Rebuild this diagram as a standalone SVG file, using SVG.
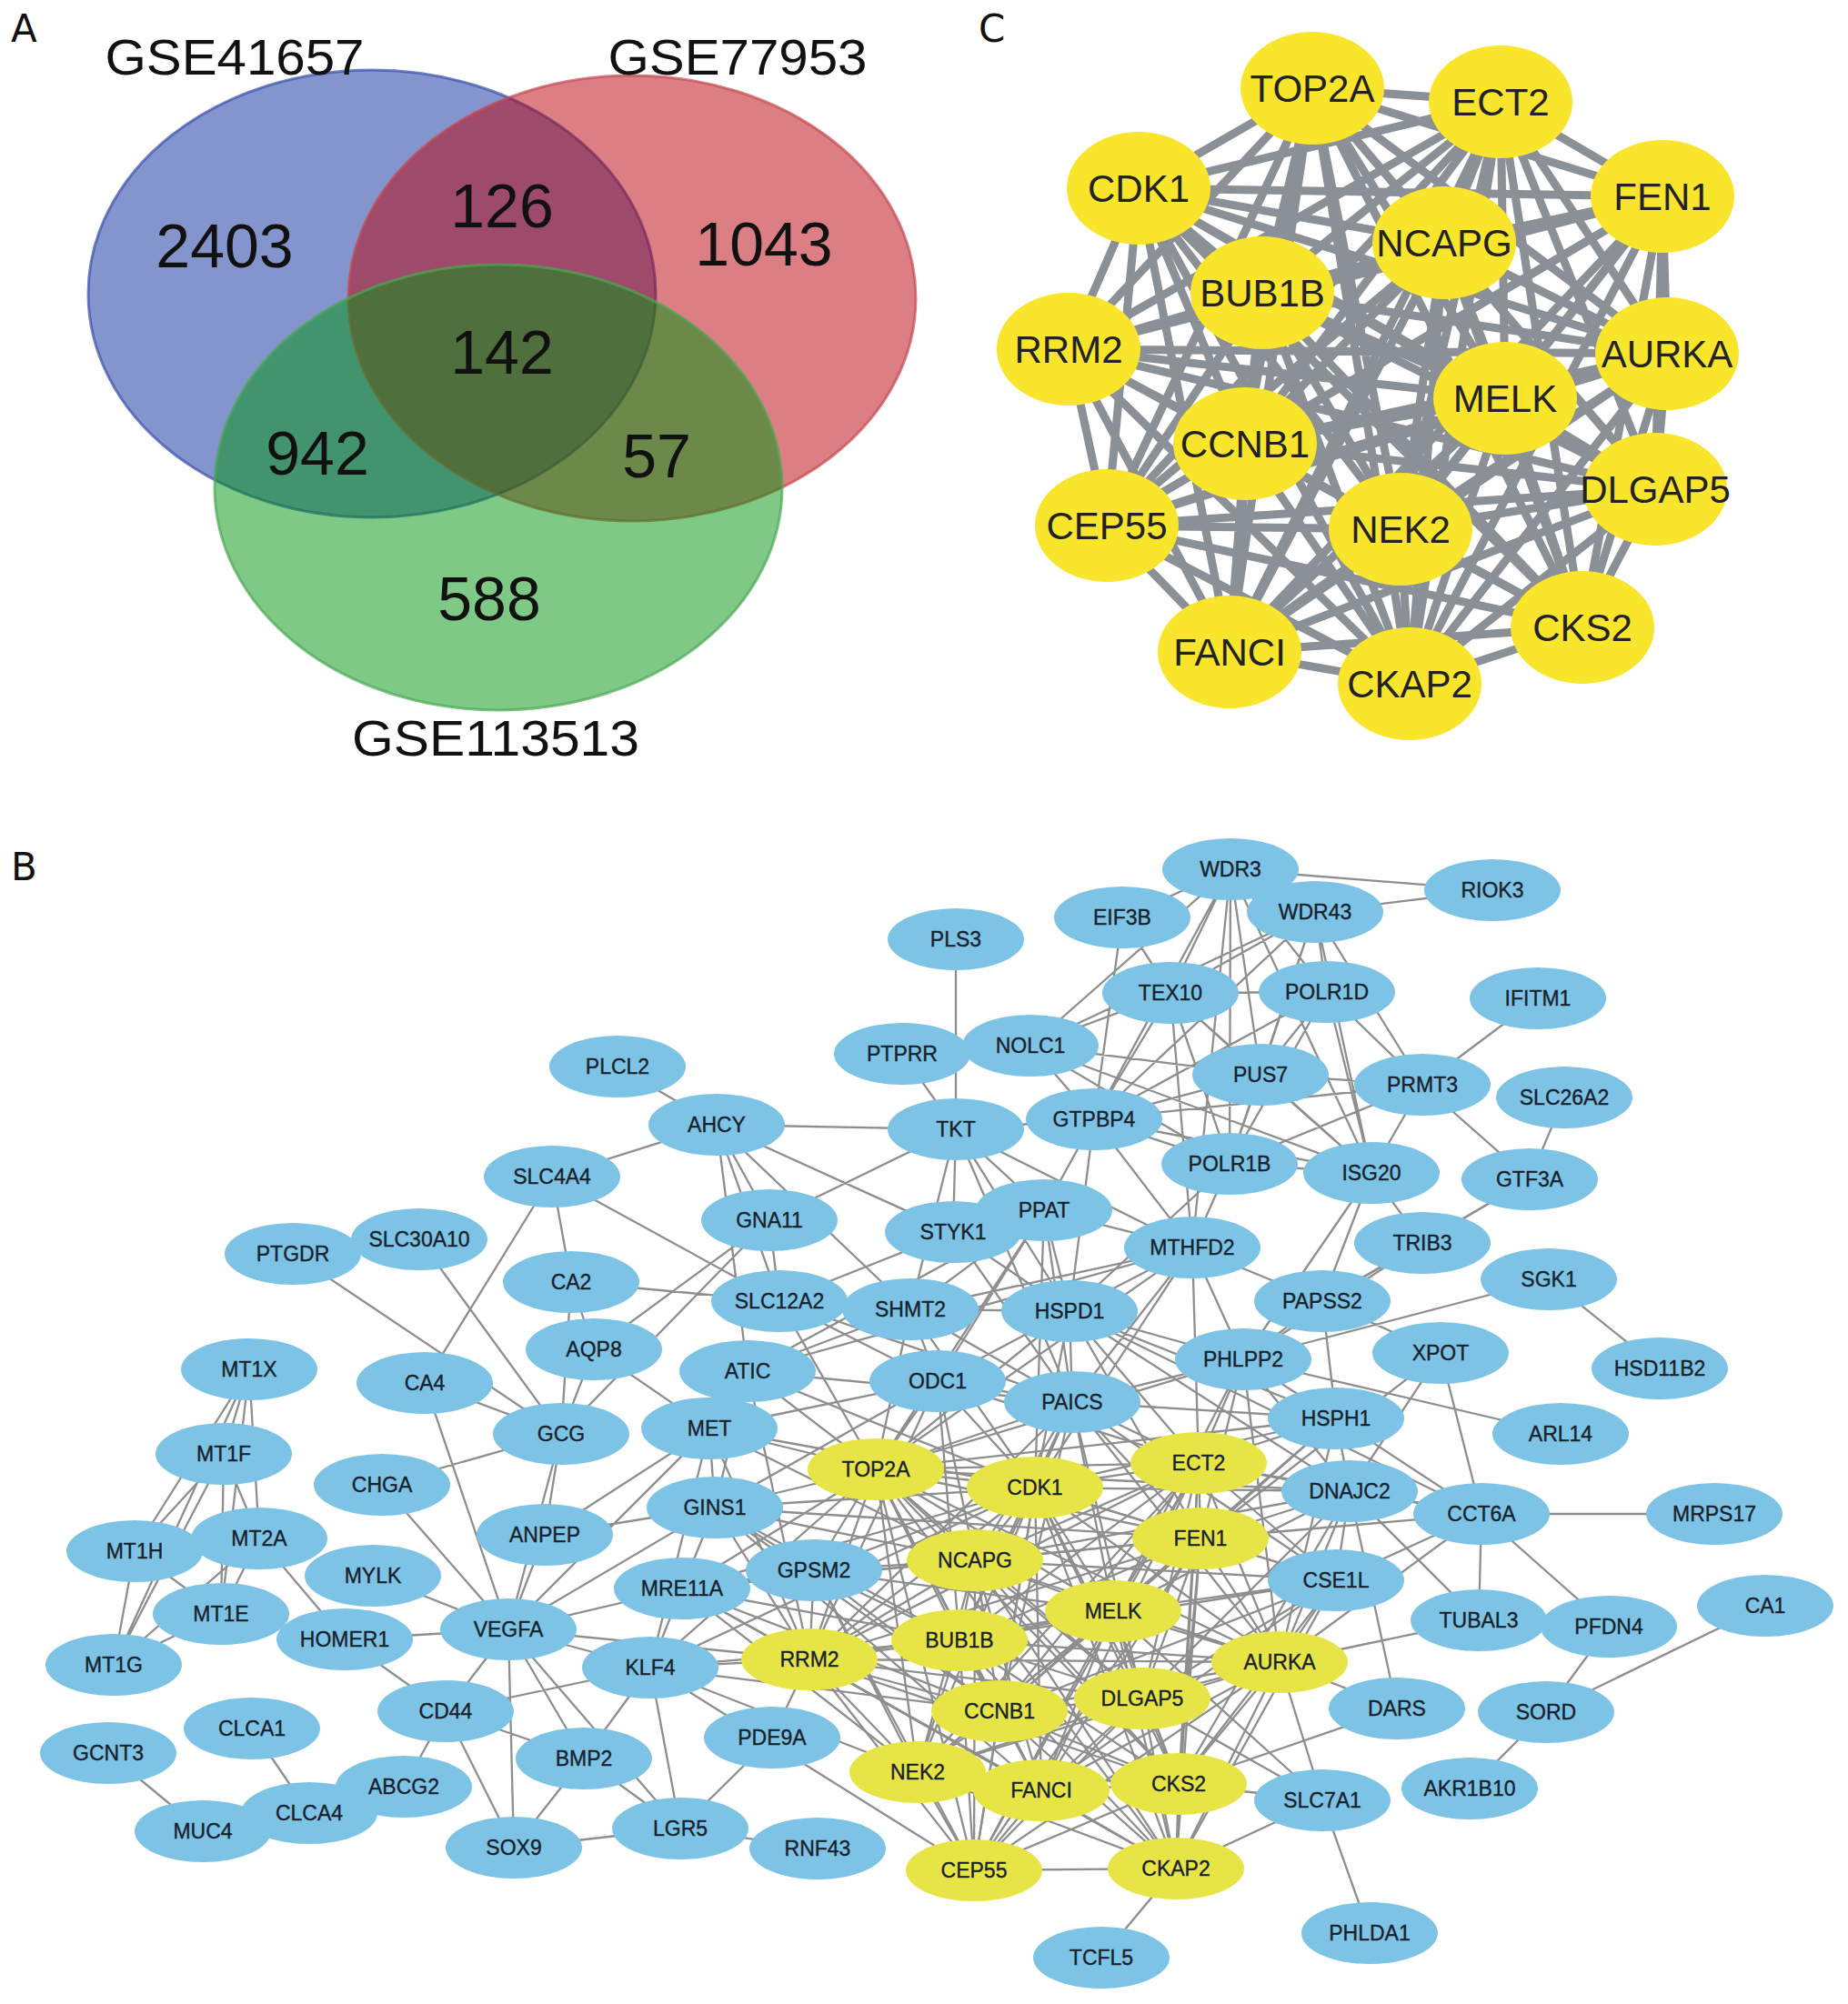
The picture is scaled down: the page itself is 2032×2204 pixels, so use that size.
<svg xmlns="http://www.w3.org/2000/svg" width="2032" height="2204" viewBox="0 0 2032 2204">
<style>
.lbl{font-family:"Liberation Sans",Arial,sans-serif;fill:#111;}
.plab{font-family:"DejaVu Sans","Liberation Sans",sans-serif;font-size:42px;fill:#111;}
.vnum{font-family:"Liberation Sans",Arial,sans-serif;font-size:68px;fill:#111;text-anchor:middle;}
.vset{font-family:"Liberation Sans",Arial,sans-serif;font-size:55px;fill:#111;text-anchor:middle;}
.ce{fill:none;stroke:#8b9097;stroke-width:9;stroke-linejoin:round;stroke-linecap:round;}
.cn{fill:#f9e52c;}
.ct{font-family:"Liberation Sans",Arial,sans-serif;font-size:42px;fill:#222;text-anchor:middle;}
.be{fill:none;stroke:#8e8e8e;stroke-width:2.3;stroke-linejoin:round;stroke-linecap:round;}
.nb{fill:#7dc3e5;}
.ny{fill:#e7e545;}
.bt{font-family:"Liberation Sans",Arial,sans-serif;font-size:23px;fill:#17212b;stroke:#17212b;stroke-width:0.35;text-anchor:middle;}
</style>
<rect width="2032" height="2204" fill="#fff"/>

<!-- Panel A -->
<g id="panelA">
<text class="plab" x="12" y="46">A</text>
<g id="venn-blue"><ellipse cx="409" cy="323" rx="312" ry="246" fill="#0a2a9a" fill-opacity="0.5" stroke="#3a4fae" stroke-opacity="0.7" stroke-width="3"/></g>
<g id="venn-red"><ellipse cx="695" cy="328" rx="312" ry="245" fill="#b8000a" fill-opacity="0.5" stroke="#c64850" stroke-opacity="0.7" stroke-width="3"/></g>
<g id="venn-green"><ellipse cx="548" cy="536" rx="312" ry="245" fill="#00930f" fill-opacity="0.5" stroke="#4aa852" stroke-opacity="0.7" stroke-width="3"/></g>
<text class="vset" x="258" y="82" textLength="285" lengthAdjust="spacingAndGlyphs">GSE41657</text>
<text class="vset" x="811" y="82" textLength="285" lengthAdjust="spacingAndGlyphs">GSE77953</text>
<text class="vset" x="545" y="831" textLength="316" lengthAdjust="spacingAndGlyphs">GSE113513</text>
<text class="vnum" x="247" y="294">2403</text>
<text class="vnum" x="552" y="250">126</text>
<text class="vnum" x="840" y="292">1043</text>
<text class="vnum" x="552" y="411">142</text>
<text class="vnum" x="349" y="522">942</text>
<text class="vnum" x="722" y="525">57</text>
<text class="vnum" x="538" y="682">588</text>
</g>

<!-- Panel C -->
<text class="plab" x="1076" y="46">C</text>
<g id="c-edges">
<path class="ce" d="M1443 97L1650 112L1550 752L1252 207L1352 717L1828 216L1740 690L1588 267L1540 582L1388 322L1217 578L1175 384L1820 538L1833 389L1369 488L1655 438"/>
<path class="ce" d="M1650 112L1252 207L1443 97L1828 216L1550 752L1588 267L1352 717L1388 322L1740 690L1175 384L1540 582L1833 389L1217 578L1655 438L1820 538L1369 488"/>
<path class="ce" d="M1252 207L1828 216L1650 112L1588 267L1443 97L1388 322L1550 752L1175 384L1352 717L1833 389L1740 690L1655 438L1540 582L1369 488L1217 578L1820 538"/>
<path class="ce" d="M1828 216L1588 267L1252 207L1388 322L1650 112L1175 384L1443 97L1833 389L1550 752L1655 438L1352 717L1369 488L1740 690L1820 538L1540 582L1217 578"/>
<path class="ce" d="M1588 267L1388 322L1828 216L1175 384L1252 207L1833 389L1650 112L1655 438L1443 97L1369 488L1550 752L1820 538L1352 717L1217 578L1740 690L1540 582"/>
<path class="ce" d="M1388 322L1175 384L1588 267L1833 389L1828 216L1655 438L1252 207L1369 488L1650 112L1820 538L1443 97L1217 578L1550 752L1540 582L1352 717L1740 690"/>
<path class="ce" d="M1175 384L1833 389L1388 322L1655 438L1588 267L1369 488L1828 216L1820 538L1252 207L1217 578L1650 112L1540 582L1443 97L1740 690L1550 752L1352 717"/>
<path class="ce" d="M1833 389L1655 438L1175 384L1369 488L1388 322L1820 538L1588 267L1217 578L1828 216L1540 582L1252 207L1740 690L1650 112L1352 717L1443 97L1550 752"/>
</g>
<g id="c-nodes">
<g id="c-TOP2A"><ellipse class="cn" cx="1443" cy="97" rx="79" ry="62"/><text class="ct" x="1443" y="112">TOP2A</text></g>
<g id="c-ECT2"><ellipse class="cn" cx="1650" cy="112" rx="79" ry="62"/><text class="ct" x="1650" y="127">ECT2</text></g>
<g id="c-CDK1"><ellipse class="cn" cx="1252" cy="207" rx="79" ry="62"/><text class="ct" x="1252" y="222">CDK1</text></g>
<g id="c-FEN1"><ellipse class="cn" cx="1828" cy="216" rx="79" ry="62"/><text class="ct" x="1828" y="231">FEN1</text></g>
<g id="c-NCAPG"><ellipse class="cn" cx="1588" cy="267" rx="79" ry="62"/><text class="ct" x="1588" y="282">NCAPG</text></g>
<g id="c-BUB1B"><ellipse class="cn" cx="1388" cy="322" rx="79" ry="62"/><text class="ct" x="1388" y="337">BUB1B</text></g>
<g id="c-RRM2"><ellipse class="cn" cx="1175" cy="384" rx="79" ry="62"/><text class="ct" x="1175" y="399">RRM2</text></g>
<g id="c-AURKA"><ellipse class="cn" cx="1833" cy="389" rx="79" ry="62"/><text class="ct" x="1833" y="404">AURKA</text></g>
<g id="c-MELK"><ellipse class="cn" cx="1655" cy="438" rx="79" ry="62"/><text class="ct" x="1655" y="453">MELK</text></g>
<g id="c-CCNB1"><ellipse class="cn" cx="1369" cy="488" rx="79" ry="62"/><text class="ct" x="1369" y="503">CCNB1</text></g>
<g id="c-DLGAP5"><ellipse class="cn" cx="1820" cy="538" rx="79" ry="62"/><text class="ct" x="1820" y="553">DLGAP5</text></g>
<g id="c-CEP55"><ellipse class="cn" cx="1217" cy="578" rx="79" ry="62"/><text class="ct" x="1217" y="593">CEP55</text></g>
<g id="c-NEK2"><ellipse class="cn" cx="1540" cy="582" rx="79" ry="62"/><text class="ct" x="1540" y="597">NEK2</text></g>
<g id="c-CKS2"><ellipse class="cn" cx="1740" cy="690" rx="79" ry="62"/><text class="ct" x="1740" y="705">CKS2</text></g>
<g id="c-FANCI"><ellipse class="cn" cx="1352" cy="717" rx="79" ry="62"/><text class="ct" x="1352" y="732">FANCI</text></g>
<g id="c-CKAP2"><ellipse class="cn" cx="1550" cy="752" rx="79" ry="62"/><text class="ct" x="1550" y="767">CKAP2</text></g>
</g>

<!-- Panel B -->
<text class="plab" x="12" y="968">B</text>
<g id="b-edges">
<path class="be" d="M963 1616L1138 1636L1293 2055L1318 1609L1071 2057L1320 1692L1296 1962L1072 1716L1145 1969L1224 1772L1009 1949L1055 1804L1099 1882L890 1825L1256 1868L1407 1828"/>
<path class="be" d="M1138 1636L1318 1609L963 1616L1320 1692L1293 2055L1072 1716L1071 2057L1224 1772L1296 1962L1055 1804L1145 1969L890 1825L1009 1949L1407 1828L1099 1882L1256 1868"/>
<path class="be" d="M1318 1609L1320 1692L1138 1636L1072 1716L963 1616L1224 1772L1293 2055L1055 1804L1071 2057L890 1825L1296 1962L1407 1828L1145 1969L1256 1868L1009 1949L1099 1882"/>
<path class="be" d="M1320 1692L1072 1716L1318 1609L1224 1772L1138 1636L1055 1804L963 1616L890 1825L1293 2055L1407 1828L1071 2057L1256 1868L1296 1962L1099 1882L1145 1969L1009 1949"/>
<path class="be" d="M1072 1716L1224 1772L1320 1692L1055 1804L1318 1609L890 1825L1138 1636L1407 1828L963 1616L1256 1868L1293 2055L1099 1882L1071 2057L1009 1949L1296 1962L1145 1969"/>
<path class="be" d="M1224 1772L1055 1804L1072 1716L890 1825L1320 1692L1407 1828L1318 1609L1256 1868L1138 1636L1099 1882L963 1616L1009 1949L1293 2055L1145 1969L1071 2057L1296 1962"/>
<path class="be" d="M1055 1804L890 1825L1224 1772L1407 1828L1072 1716L1256 1868L1320 1692L1099 1882L1318 1609L1009 1949L1138 1636L1145 1969L963 1616L1296 1962L1293 2055L1071 2057"/>
<path class="be" d="M890 1825L1407 1828L1055 1804L1256 1868L1224 1772L1099 1882L1072 1716L1009 1949L1320 1692L1145 1969L1318 1609L1296 1962L1138 1636L1071 2057L963 1616L1293 2055"/>
<path class="be" d="M1353 956L1641 979M1446 1003L1641 979M1353 956L1234 1009M1353 956L1287 1092M1353 956L1203 1231M1353 956L1352 1280M1353 956L1386 1182M1353 956L1133 1150M1353 956L1459 1091M1353 956L1508 1290M1353 956L1311 1372M1446 1003L1287 1092M1446 1003L1459 1091M1446 1003L1386 1182M1446 1003L1203 1231M1446 1003L1352 1280M1446 1003L1508 1290M1446 1003L1564 1193M1446 1003L1133 1150M1234 1009L1203 1231M1234 1009L1287 1092M1287 1092L1203 1231M1287 1092L1352 1280M1287 1092L1386 1182M1287 1092L1508 1290M1287 1092L1133 1150M1287 1092L1459 1091M1287 1092L1311 1372M1459 1091L1564 1193M1459 1091L1508 1290M1459 1091L1352 1280M1459 1091L1203 1231M1459 1091L1386 1182M1133 1150L1203 1231M1133 1150L1352 1280M1133 1150L1508 1290M1133 1150L1386 1182M1386 1182L1564 1193M1386 1182L1203 1231M1386 1182L1352 1280M1386 1182L1508 1290M1564 1193L1508 1290M1564 1193L1352 1280M1564 1193L1682 1297M1564 1193L1691 1098M1203 1231L1352 1280M1203 1231L1508 1290M1203 1231L1564 1193M1203 1231L1051 1242M1203 1231L1148 1331M1203 1231L1176 1442M1203 1231L1311 1372M1352 1280L1508 1290M1720 1207L1682 1297M1682 1297L1564 1367M1508 1290L1564 1367M1508 1290L1454 1431M1508 1290L1367 1495M1352 1280L1311 1372M1352 1280L1176 1442M1682 1297L1454 1431"/>
<path class="be" d="M1051 1033L1051 1242M992 1159L1051 1242M788 1237L1051 1242M679 1173L788 1237M607 1294L788 1237M788 1237L846 1342M788 1237L857 1431M788 1237L1001 1440M788 1237L822 1508M788 1237L1048 1355M1051 1242L846 1342M1051 1242L1048 1355M1051 1242L1148 1331M1051 1242L1001 1440M1051 1242L1176 1442M1051 1242L1179 1542M1051 1242L1311 1372M1148 1331L1179 1542M1148 1331L822 1508M1148 1331L1001 1440M1148 1331L1311 1372M1148 1331L1176 1442M1148 1331L1031 1519M1311 1372L1001 1440M1311 1372L1176 1442M1311 1372L1179 1542M1311 1372L822 1508M1311 1372L1367 1495M1311 1372L1454 1431M1001 1440L1176 1442M1001 1440L822 1508M1001 1440L1179 1542M1001 1440L1031 1519M1176 1442L1179 1542M1176 1442L1031 1519M1176 1442L1469 1560M1176 1442L1629 1665M1176 1442L1484 1640M1176 1442L1367 1495M822 1508L1179 1542M1031 1519L1179 1542M846 1342L857 1431M846 1342L617 1577M846 1342L653 1484M628 1410L857 1431M607 1294L628 1410M607 1294L467 1521M607 1294L857 1431M628 1410L653 1484M628 1410L617 1577M653 1484L617 1577M653 1484L780 1571M467 1521L617 1577M322 1379L617 1577M461 1363L617 1577M467 1521L559 1792M420 1633L617 1577M420 1633L559 1792M617 1577L599 1688M617 1577L559 1792M599 1688L559 1792M599 1688L780 1571M599 1688L786 1658M410 1733L559 1792M379 1803L559 1792M379 1803L490 1882M285 1692L379 1803M559 1792L490 1882M559 1792L715 1834M559 1792L642 1934M559 1792L565 2032M559 1792L748 2011M559 1792L780 1571M559 1792L750 1747M559 1792L786 1658M559 1792L890 1825M490 1882L715 1834M490 1882L642 1934M490 1882L565 2032M490 1882L444 1965M642 1934L565 2032M642 1934L715 1834M642 1934L748 2011M565 2032L748 2011M715 1834L748 2011M748 2011L899 2033M748 2011L849 1911M849 1911L890 1825M715 1834L890 1825M277 1901L340 1994M119 1928L223 2014"/>
<path class="be" d="M274 1506L246 1599M274 1506L285 1692M274 1506L148 1706M274 1506L243 1775M274 1506L125 1831M246 1599L285 1692M246 1599L148 1706M246 1599L243 1775M246 1599L125 1831M285 1692L148 1706M285 1692L243 1775M285 1692L125 1831M148 1706L243 1775M148 1706L125 1831M243 1775L125 1831"/>
<path class="be" d="M1703 1407L1367 1495M1703 1407L1825 1505M1367 1495L1716 1577M1367 1495L1454 1431M1367 1495L1469 1560M1367 1495L1484 1640M1367 1495L1564 1367M1454 1431L1564 1367M1454 1431L1584 1488M1454 1431L1469 1560M1584 1488L1484 1640M1584 1488L1629 1665M1469 1560L1484 1640M1469 1560L1629 1665M1484 1640L1629 1665M1484 1640L1469 1738M1484 1640L1626 1782M1484 1640L1536 1879M1629 1665L1885 1665M1629 1665L1626 1782M1629 1665L1769 1789M1629 1665L1469 1738M1769 1789L1700 1883M1700 1883L1941 1766M1700 1883L1616 1967M1454 1980L1506 2126M1293 2055L1211 2153M1407 1828L1626 1782M1407 1828L1536 1879M1407 1828L1454 1980M1536 1879L1296 1962M1454 1980L1224 1772"/>
<path class="be" d="M780 1571L786 1658M780 1571L715 1834M780 1571L822 1508M786 1658L750 1747M786 1658L895 1727M786 1658L1031 1519M750 1747L715 1834M750 1747L895 1727M1367 1495L1179 1542M1469 1560L1179 1542M1469 1738L1179 1542M1031 1519L780 1571M822 1508L786 1658M857 1431L1031 1519M857 1431L1179 1542M1048 1355L1176 1442M1048 1355L1179 1542M1048 1355L857 1431"/>
<path class="be" d="M963 1616L780 1571L963 1616L786 1658L963 1616L750 1747L963 1616L895 1727L963 1616L1031 1519L963 1616L1179 1542L963 1616L1176 1442L963 1616L1001 1440L963 1616L822 1508L963 1616L1148 1331L963 1616L1469 1560L963 1616L1484 1640L963 1616L715 1834L963 1616L1367 1495L963 1616L1311 1372L963 1616L857 1431"/>
<path class="be" d="M1138 1636L780 1571L1138 1636L786 1658L1138 1636L750 1747L1138 1636L895 1727L1138 1636L1031 1519L1138 1636L1179 1542L1138 1636L1176 1442L1138 1636L1001 1440L1138 1636L1148 1331L1138 1636L1311 1372L1138 1636L1469 1560L1138 1636L1469 1738L1138 1636L1484 1640L1138 1636L715 1834L1138 1636L822 1508"/>
<path class="be" d="M1318 1609L1179 1542L1318 1609L1176 1442L1318 1609L1367 1495L1318 1609L1311 1372L1318 1609L1469 1560L1318 1609L1484 1640L1318 1609L1469 1738L1318 1609L1629 1665L1318 1609L1031 1519"/>
<path class="be" d="M1320 1692L1179 1542L1320 1692L1176 1442L1320 1692L1367 1495L1320 1692L1469 1560L1320 1692L1484 1640L1320 1692L1469 1738L1320 1692L786 1658L1320 1692L750 1747L1320 1692L1629 1665L1320 1692L1584 1488"/>
<path class="be" d="M1072 1716L786 1658L1072 1716L895 1727L1072 1716L750 1747L1072 1716L1179 1542L1072 1716L1031 1519L1072 1716L1469 1738L1072 1716L1484 1640L1072 1716L780 1571"/>
<path class="be" d="M1224 1772L1179 1542L1224 1772L1469 1738L1224 1772L1484 1640L1224 1772L1469 1560L1224 1772L1367 1495L1224 1772L895 1727"/>
<path class="be" d="M1055 1804L786 1658L1055 1804L895 1727L1055 1804L750 1747L1055 1804L715 1834L1055 1804L1031 1519L1055 1804L1179 1542L1055 1804L1469 1738"/>
<path class="be" d="M890 1825L786 1658L890 1825L750 1747L890 1825L780 1571L890 1825L1031 1519L890 1825L1179 1542L890 1825L822 1508L890 1825L895 1727"/>
<path class="be" d="M1407 1828L1469 1738L1407 1828L1484 1640L1407 1828L1469 1560L1407 1828L1367 1495L1407 1828L1629 1665L1407 1828L1179 1542"/>
<path class="be" d="M1256 1868L1469 1738L1256 1868L1484 1640L1256 1868L1179 1542L1256 1868L1454 1980"/>
<path class="be" d="M1099 1882L786 1658L1099 1882L750 1747L1099 1882L715 1834L1099 1882L895 1727L1099 1882L1179 1542L1099 1882L1469 1738"/>
<path class="be" d="M1009 1949L895 1727L1009 1949L750 1747L1009 1949L715 1834M1145 1969L750 1747L1145 1969L786 1658L1145 1969L1469 1738M1296 1962L1469 1738L1296 1962L1454 1980L1296 1962L1484 1640M1071 2057L895 1727L1071 2057L715 1834M1293 2055L1454 1980L1293 2055L1469 1738"/>
</g>

<g id="b-nodes">
<g id="n-WDR3"><ellipse class="nb" cx="1353" cy="956" rx="75" ry="34"/><text class="bt" x="1353" y="964">WDR3</text></g>
<g id="n-RIOK3"><ellipse class="nb" cx="1641" cy="979" rx="75" ry="34"/><text class="bt" x="1641" y="987">RIOK3</text></g>
<g id="n-EIF3B"><ellipse class="nb" cx="1234" cy="1009" rx="75" ry="34"/><text class="bt" x="1234" y="1017">EIF3B</text></g>
<g id="n-WDR43"><ellipse class="nb" cx="1446" cy="1003" rx="75" ry="34"/><text class="bt" x="1446" y="1011">WDR43</text></g>
<g id="n-PLS3"><ellipse class="nb" cx="1051" cy="1033" rx="75" ry="34"/><text class="bt" x="1051" y="1041">PLS3</text></g>
<g id="n-IFITM1"><ellipse class="nb" cx="1691" cy="1098" rx="75" ry="34"/><text class="bt" x="1691" y="1106">IFITM1</text></g>
<g id="n-TEX10"><ellipse class="nb" cx="1287" cy="1092" rx="75" ry="34"/><text class="bt" x="1287" y="1100">TEX10</text></g>
<g id="n-POLR1D"><ellipse class="nb" cx="1459" cy="1091" rx="75" ry="34"/><text class="bt" x="1459" y="1099">POLR1D</text></g>
<g id="n-PTPRR"><ellipse class="nb" cx="992" cy="1159" rx="75" ry="34"/><text class="bt" x="992" y="1167">PTPRR</text></g>
<g id="n-NOLC1"><ellipse class="nb" cx="1133" cy="1150" rx="75" ry="34"/><text class="bt" x="1133" y="1158">NOLC1</text></g>
<g id="n-PLCL2"><ellipse class="nb" cx="679" cy="1173" rx="75" ry="34"/><text class="bt" x="679" y="1181">PLCL2</text></g>
<g id="n-PUS7"><ellipse class="nb" cx="1386" cy="1182" rx="75" ry="34"/><text class="bt" x="1386" y="1190">PUS7</text></g>
<g id="n-PRMT3"><ellipse class="nb" cx="1564" cy="1193" rx="75" ry="34"/><text class="bt" x="1564" y="1201">PRMT3</text></g>
<g id="n-SLC26A2"><ellipse class="nb" cx="1720" cy="1207" rx="75" ry="34"/><text class="bt" x="1720" y="1215">SLC26A2</text></g>
<g id="n-AHCY"><ellipse class="nb" cx="788" cy="1237" rx="75" ry="34"/><text class="bt" x="788" y="1245">AHCY</text></g>
<g id="n-TKT"><ellipse class="nb" cx="1051" cy="1242" rx="75" ry="34"/><text class="bt" x="1051" y="1250">TKT</text></g>
<g id="n-GTPBP4"><ellipse class="nb" cx="1203" cy="1231" rx="75" ry="34"/><text class="bt" x="1203" y="1239">GTPBP4</text></g>
<g id="n-POLR1B"><ellipse class="nb" cx="1352" cy="1280" rx="75" ry="34"/><text class="bt" x="1352" y="1288">POLR1B</text></g>
<g id="n-ISG20"><ellipse class="nb" cx="1508" cy="1290" rx="75" ry="34"/><text class="bt" x="1508" y="1298">ISG20</text></g>
<g id="n-GTF3A"><ellipse class="nb" cx="1682" cy="1297" rx="75" ry="34"/><text class="bt" x="1682" y="1305">GTF3A</text></g>
<g id="n-SLC4A4"><ellipse class="nb" cx="607" cy="1294" rx="75" ry="34"/><text class="bt" x="607" y="1302">SLC4A4</text></g>
<g id="n-STYK1"><ellipse class="nb" cx="1048" cy="1355" rx="75" ry="34"/><text class="bt" x="1048" y="1363">STYK1</text></g>
<g id="n-PPAT"><ellipse class="nb" cx="1148" cy="1331" rx="75" ry="34"/><text class="bt" x="1148" y="1339">PPAT</text></g>
<g id="n-GNA11"><ellipse class="nb" cx="846" cy="1342" rx="75" ry="34"/><text class="bt" x="846" y="1350">GNA11</text></g>
<g id="n-MTHFD2"><ellipse class="nb" cx="1311" cy="1372" rx="75" ry="34"/><text class="bt" x="1311" y="1380">MTHFD2</text></g>
<g id="n-TRIB3"><ellipse class="nb" cx="1564" cy="1367" rx="75" ry="34"/><text class="bt" x="1564" y="1375">TRIB3</text></g>
<g id="n-PTGDR"><ellipse class="nb" cx="322" cy="1379" rx="75" ry="34"/><text class="bt" x="322" y="1387">PTGDR</text></g>
<g id="n-SLC30A10"><ellipse class="nb" cx="461" cy="1363" rx="75" ry="34"/><text class="bt" x="461" y="1371">SLC30A10</text></g>
<g id="n-SGK1"><ellipse class="nb" cx="1703" cy="1407" rx="75" ry="34"/><text class="bt" x="1703" y="1415">SGK1</text></g>
<g id="n-CA2"><ellipse class="nb" cx="628" cy="1410" rx="75" ry="34"/><text class="bt" x="628" y="1418">CA2</text></g>
<g id="n-SLC12A2"><ellipse class="nb" cx="857" cy="1431" rx="75" ry="34"/><text class="bt" x="857" y="1439">SLC12A2</text></g>
<g id="n-SHMT2"><ellipse class="nb" cx="1001" cy="1440" rx="75" ry="34"/><text class="bt" x="1001" y="1448">SHMT2</text></g>
<g id="n-HSPD1"><ellipse class="nb" cx="1176" cy="1442" rx="75" ry="34"/><text class="bt" x="1176" y="1450">HSPD1</text></g>
<g id="n-PAPSS2"><ellipse class="nb" cx="1454" cy="1431" rx="75" ry="34"/><text class="bt" x="1454" y="1439">PAPSS2</text></g>
<g id="n-HSD11B2"><ellipse class="nb" cx="1825" cy="1505" rx="75" ry="34"/><text class="bt" x="1825" y="1513">HSD11B2</text></g>
<g id="n-XPOT"><ellipse class="nb" cx="1584" cy="1488" rx="75" ry="34"/><text class="bt" x="1584" y="1496">XPOT</text></g>
<g id="n-MT1X"><ellipse class="nb" cx="274" cy="1506" rx="75" ry="34"/><text class="bt" x="274" y="1514">MT1X</text></g>
<g id="n-CA4"><ellipse class="nb" cx="467" cy="1521" rx="75" ry="34"/><text class="bt" x="467" y="1529">CA4</text></g>
<g id="n-AQP8"><ellipse class="nb" cx="653" cy="1484" rx="75" ry="34"/><text class="bt" x="653" y="1492">AQP8</text></g>
<g id="n-ATIC"><ellipse class="nb" cx="822" cy="1508" rx="75" ry="34"/><text class="bt" x="822" y="1516">ATIC</text></g>
<g id="n-ODC1"><ellipse class="nb" cx="1031" cy="1519" rx="75" ry="34"/><text class="bt" x="1031" y="1527">ODC1</text></g>
<g id="n-PAICS"><ellipse class="nb" cx="1179" cy="1542" rx="75" ry="34"/><text class="bt" x="1179" y="1550">PAICS</text></g>
<g id="n-PHLPP2"><ellipse class="nb" cx="1367" cy="1495" rx="75" ry="34"/><text class="bt" x="1367" y="1503">PHLPP2</text></g>
<g id="n-GCG"><ellipse class="nb" cx="617" cy="1577" rx="75" ry="34"/><text class="bt" x="617" y="1585">GCG</text></g>
<g id="n-MET"><ellipse class="nb" cx="780" cy="1571" rx="75" ry="34"/><text class="bt" x="780" y="1579">MET</text></g>
<g id="n-HSPH1"><ellipse class="nb" cx="1469" cy="1560" rx="75" ry="34"/><text class="bt" x="1469" y="1568">HSPH1</text></g>
<g id="n-ARL14"><ellipse class="nb" cx="1716" cy="1577" rx="75" ry="34"/><text class="bt" x="1716" y="1585">ARL14</text></g>
<g id="n-MT1F"><ellipse class="nb" cx="246" cy="1599" rx="75" ry="34"/><text class="bt" x="246" y="1607">MT1F</text></g>
<g id="n-CHGA"><ellipse class="nb" cx="420" cy="1633" rx="75" ry="34"/><text class="bt" x="420" y="1641">CHGA</text></g>
<g id="n-DNAJC2"><ellipse class="nb" cx="1484" cy="1640" rx="75" ry="34"/><text class="bt" x="1484" y="1648">DNAJC2</text></g>
<g id="n-CCT6A"><ellipse class="nb" cx="1629" cy="1665" rx="75" ry="34"/><text class="bt" x="1629" y="1673">CCT6A</text></g>
<g id="n-MRPS17"><ellipse class="nb" cx="1885" cy="1665" rx="75" ry="34"/><text class="bt" x="1885" y="1673">MRPS17</text></g>
<g id="n-GINS1"><ellipse class="nb" cx="786" cy="1658" rx="75" ry="34"/><text class="bt" x="786" y="1666">GINS1</text></g>
<g id="n-MT2A"><ellipse class="nb" cx="285" cy="1692" rx="75" ry="34"/><text class="bt" x="285" y="1700">MT2A</text></g>
<g id="n-MT1H"><ellipse class="nb" cx="148" cy="1706" rx="75" ry="34"/><text class="bt" x="148" y="1714">MT1H</text></g>
<g id="n-ANPEP"><ellipse class="nb" cx="599" cy="1688" rx="75" ry="34"/><text class="bt" x="599" y="1696">ANPEP</text></g>
<g id="n-MYLK"><ellipse class="nb" cx="410" cy="1733" rx="75" ry="34"/><text class="bt" x="410" y="1741">MYLK</text></g>
<g id="n-MRE11A"><ellipse class="nb" cx="750" cy="1747" rx="75" ry="34"/><text class="bt" x="750" y="1755">MRE11A</text></g>
<g id="n-GPSM2"><ellipse class="nb" cx="895" cy="1727" rx="75" ry="34"/><text class="bt" x="895" y="1735">GPSM2</text></g>
<g id="n-CSE1L"><ellipse class="nb" cx="1469" cy="1738" rx="75" ry="34"/><text class="bt" x="1469" y="1746">CSE1L</text></g>
<g id="n-MT1E"><ellipse class="nb" cx="243" cy="1775" rx="75" ry="34"/><text class="bt" x="243" y="1783">MT1E</text></g>
<g id="n-CA1"><ellipse class="nb" cx="1941" cy="1766" rx="75" ry="34"/><text class="bt" x="1941" y="1774">CA1</text></g>
<g id="n-TUBAL3"><ellipse class="nb" cx="1626" cy="1782" rx="75" ry="34"/><text class="bt" x="1626" y="1790">TUBAL3</text></g>
<g id="n-PFDN4"><ellipse class="nb" cx="1769" cy="1789" rx="75" ry="34"/><text class="bt" x="1769" y="1797">PFDN4</text></g>
<g id="n-HOMER1"><ellipse class="nb" cx="379" cy="1803" rx="75" ry="34"/><text class="bt" x="379" y="1811">HOMER1</text></g>
<g id="n-VEGFA"><ellipse class="nb" cx="559" cy="1792" rx="75" ry="34"/><text class="bt" x="559" y="1800">VEGFA</text></g>
<g id="n-KLF4"><ellipse class="nb" cx="715" cy="1834" rx="75" ry="34"/><text class="bt" x="715" y="1842">KLF4</text></g>
<g id="n-MT1G"><ellipse class="nb" cx="125" cy="1831" rx="75" ry="34"/><text class="bt" x="125" y="1839">MT1G</text></g>
<g id="n-CD44"><ellipse class="nb" cx="490" cy="1882" rx="75" ry="34"/><text class="bt" x="490" y="1890">CD44</text></g>
<g id="n-DARS"><ellipse class="nb" cx="1536" cy="1879" rx="75" ry="34"/><text class="bt" x="1536" y="1887">DARS</text></g>
<g id="n-SORD"><ellipse class="nb" cx="1700" cy="1883" rx="75" ry="34"/><text class="bt" x="1700" y="1891">SORD</text></g>
<g id="n-CLCA1"><ellipse class="nb" cx="277" cy="1901" rx="75" ry="34"/><text class="bt" x="277" y="1909">CLCA1</text></g>
<g id="n-PDE9A"><ellipse class="nb" cx="849" cy="1911" rx="75" ry="34"/><text class="bt" x="849" y="1919">PDE9A</text></g>
<g id="n-GCNT3"><ellipse class="nb" cx="119" cy="1928" rx="75" ry="34"/><text class="bt" x="119" y="1936">GCNT3</text></g>
<g id="n-BMP2"><ellipse class="nb" cx="642" cy="1934" rx="75" ry="34"/><text class="bt" x="642" y="1942">BMP2</text></g>
<g id="n-ABCG2"><ellipse class="nb" cx="444" cy="1965" rx="75" ry="34"/><text class="bt" x="444" y="1973">ABCG2</text></g>
<g id="n-MUC4"><ellipse class="nb" cx="223" cy="2014" rx="75" ry="34"/><text class="bt" x="223" y="2022">MUC4</text></g>
<g id="n-CLCA4"><ellipse class="nb" cx="340" cy="1994" rx="75" ry="34"/><text class="bt" x="340" y="2002">CLCA4</text></g>
<g id="n-SLC7A1"><ellipse class="nb" cx="1454" cy="1980" rx="75" ry="34"/><text class="bt" x="1454" y="1988">SLC7A1</text></g>
<g id="n-AKR1B10"><ellipse class="nb" cx="1616" cy="1967" rx="75" ry="34"/><text class="bt" x="1616" y="1975">AKR1B10</text></g>
<g id="n-LGR5"><ellipse class="nb" cx="748" cy="2011" rx="75" ry="34"/><text class="bt" x="748" y="2019">LGR5</text></g>
<g id="n-SOX9"><ellipse class="nb" cx="565" cy="2032" rx="75" ry="34"/><text class="bt" x="565" y="2040">SOX9</text></g>
<g id="n-RNF43"><ellipse class="nb" cx="899" cy="2033" rx="75" ry="34"/><text class="bt" x="899" y="2041">RNF43</text></g>
<g id="n-PHLDA1"><ellipse class="nb" cx="1506" cy="2126" rx="75" ry="34"/><text class="bt" x="1506" y="2134">PHLDA1</text></g>
<g id="n-TCFL5"><ellipse class="nb" cx="1211" cy="2153" rx="75" ry="34"/><text class="bt" x="1211" y="2161">TCFL5</text></g>
<g id="n-TOP2A"><ellipse class="ny" cx="963" cy="1616" rx="75" ry="34"/><text class="bt" x="963" y="1624">TOP2A</text></g>
<g id="n-CDK1"><ellipse class="ny" cx="1138" cy="1636" rx="75" ry="34"/><text class="bt" x="1138" y="1644">CDK1</text></g>
<g id="n-ECT2"><ellipse class="ny" cx="1318" cy="1609" rx="75" ry="34"/><text class="bt" x="1318" y="1617">ECT2</text></g>
<g id="n-FEN1"><ellipse class="ny" cx="1320" cy="1692" rx="75" ry="34"/><text class="bt" x="1320" y="1700">FEN1</text></g>
<g id="n-NCAPG"><ellipse class="ny" cx="1072" cy="1716" rx="75" ry="34"/><text class="bt" x="1072" y="1724">NCAPG</text></g>
<g id="n-MELK"><ellipse class="ny" cx="1224" cy="1772" rx="75" ry="34"/><text class="bt" x="1224" y="1780">MELK</text></g>
<g id="n-BUB1B"><ellipse class="ny" cx="1055" cy="1804" rx="75" ry="34"/><text class="bt" x="1055" y="1812">BUB1B</text></g>
<g id="n-RRM2"><ellipse class="ny" cx="890" cy="1825" rx="75" ry="34"/><text class="bt" x="890" y="1833">RRM2</text></g>
<g id="n-AURKA"><ellipse class="ny" cx="1407" cy="1828" rx="75" ry="34"/><text class="bt" x="1407" y="1836">AURKA</text></g>
<g id="n-DLGAP5"><ellipse class="ny" cx="1256" cy="1868" rx="75" ry="34"/><text class="bt" x="1256" y="1876">DLGAP5</text></g>
<g id="n-CCNB1"><ellipse class="ny" cx="1099" cy="1882" rx="75" ry="34"/><text class="bt" x="1099" y="1890">CCNB1</text></g>
<g id="n-NEK2"><ellipse class="ny" cx="1009" cy="1949" rx="75" ry="34"/><text class="bt" x="1009" y="1957">NEK2</text></g>
<g id="n-FANCI"><ellipse class="ny" cx="1145" cy="1969" rx="75" ry="34"/><text class="bt" x="1145" y="1977">FANCI</text></g>
<g id="n-CKS2"><ellipse class="ny" cx="1296" cy="1962" rx="75" ry="34"/><text class="bt" x="1296" y="1970">CKS2</text></g>
<g id="n-CEP55"><ellipse class="ny" cx="1071" cy="2057" rx="75" ry="34"/><text class="bt" x="1071" y="2065">CEP55</text></g>
<g id="n-CKAP2"><ellipse class="ny" cx="1293" cy="2055" rx="75" ry="34"/><text class="bt" x="1293" y="2063">CKAP2</text></g>
</g>
</svg>
